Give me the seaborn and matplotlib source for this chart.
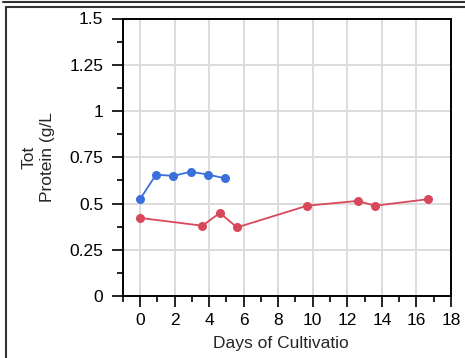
import matplotlib
matplotlib.use("Agg")
import matplotlib.pyplot as plt
from matplotlib.lines import Line2D
from matplotlib.ticker import MultipleLocator
import seaborn as sns
import pandas as pd

# Total protein over cultivation time, two runs
days_a = [0.0, 0.93, 1.93, 2.94, 3.94, 4.94]
protein_a = [0.523, 0.656, 0.649, 0.672, 0.656, 0.636]

days_b = [0.0, 3.61, 4.62, 5.62, 9.67, 12.6, 13.6, 16.64]
protein_b = [0.422, 0.380, 0.449, 0.371, 0.488, 0.514, 0.488, 0.523]

x_ticks = [0, 2, 4, 6, 8, 10, 12, 14, 16, 18]
y_ticks = [0, 0.25, 0.5, 0.75, 1.0, 1.25, 1.5]
y_tick_labels = ["0", "0.25", "0.5", "0.75", "1", "1.25", "1.5"]

sns.set_style("white")
plt.rcParams["font.family"] = ["Liberation Sans", "DejaVu Sans"]

W, H = 465, 358
FS = 12.5
fig = plt.figure(figsize=(W / 100, H / 100), dpi=100)
ax = fig.add_axes([122.7 / W, 1 - 296 / H, (451 - 122.7) / W, (296 - 18.5) / H])

df_a = pd.DataFrame({"day": days_a, "protein": protein_a})
df_b = pd.DataFrame({"day": days_b, "protein": protein_b})

sns.lineplot(data=df_a, x="day", y="protein", ax=ax, color="#3b6fdc",
             marker="o", markersize=6.5, markeredgewidth=0, linewidth=1.3, sort=False)
sns.lineplot(data=df_b, x="day", y="protein", ax=ax, color="#d9475a",
             marker="o", markersize=6.5, markeredgewidth=0, linewidth=1.3, sort=False)

ax.set_xlim(-1, 18)
ax.set_ylim(0, 1.5)
ax.set_xticks(x_ticks)
ax.set_yticks(y_ticks)
ax.set_yticklabels(y_tick_labels)
ax.xaxis.set_minor_locator(MultipleLocator(1))
ax.yaxis.set_minor_locator(MultipleLocator(0.125))

ax.grid(True, which="major", color="#dcdcdc", linewidth=1.4)
ax.set_axisbelow(True)
for s in ax.spines.values():
    s.set_color("black")
    s.set_linewidth(1.4)

ax.tick_params(axis="both", which="major", direction="out", length=8, width=1.2,
               color="black", labelsize=FS, labelcolor="black")
ax.tick_params(axis="both", which="minor", direction="out", length=4.5, width=1.2,
               color="black")
ax.tick_params(axis="y", which="major", pad=6)
ax.tick_params(axis="x", which="major", pad=4)
ax.tick_params(left=True, bottom=True, which="both")

ax.set_xlabel("Days of Cultivatio", fontsize=FS)
ax.set_ylabel("Tot\nProtein (g/L", fontsize=FS, linespacing=1.25)
ax.xaxis.set_label_coords((281 - 122.7) / (451 - 122.7), -(336 - 296) / (296 - 18.5))
ax.yaxis.set_label_coords(-(122.7 - 55) / (451 - 122.7), 0.5)

# panel frame lines
fig.add_artist(Line2D([3 / W, 1], [1 - 1.5 / H, 1 - 1.5 / H], transform=fig.transFigure,
                      color="#333333", linewidth=1.5))
fig.add_artist(Line2D([5.5 / W, 1], [1 - 6.5 / H, 1 - 6.5 / H], transform=fig.transFigure,
                      color="#333333", linewidth=1.5))
fig.add_artist(Line2D([5.5 / W, 5.5 / W], [1 - 6.5 / H, 0], transform=fig.transFigure,
                      color="#333333", linewidth=1.5))

fig.savefig("out.png", dpi=100)
